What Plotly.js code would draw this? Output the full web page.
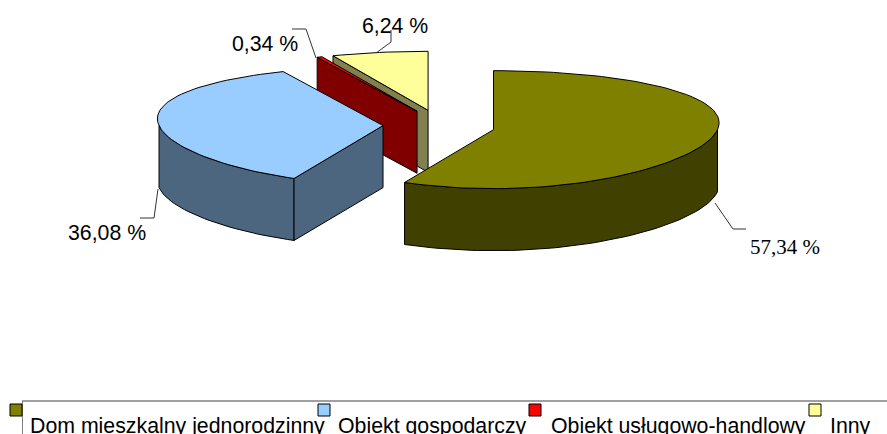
<!DOCTYPE html>
<html>
<head>
<meta charset="utf-8">
<script src="https://cdn.plot.ly/plotly-3.0.1.min.js"></script>
<style>html,body{margin:0;padding:0;background:#fff;overflow:hidden}</style>
</head>
<body>
<div id="chart" style="width:887px;height:434px"></div>
<script>
// Data
const categories = ["Dom mieszkalny jednorodzinny", "Obiekt gospodarczy", "Obiekt usługowo-handlowy", "Inny"];
const shares = [57.34, 36.08, 0.34, 6.24];
const valueLabels = ["57,34 %", "36,08 %", "0,34 %", "6,24 %"];

// Styles
const topColors = ["#808000", "#99CCFF", "#FF0000", "#FFFF99"];
const wallColors = ["#404000", "#4D6680", "#800000", "#808050"];

// Projection of the pie on the page
const cx = 439, cy = 126, rx = 224, ry = 59, depth = 62, skew = 0.12, explodeX = 56, explodeY = 16;
const rad = d => d * Math.PI / 180;
const px = t => rx * Math.sin(rad(t)) * (1 + skew * Math.cos(rad(t)));
const py = t => -ry * Math.cos(rad(t));

const traces = [];
function poly(pts, fill) {
  traces.push({
    type: "scatter", mode: "lines", x: pts.map(p => p[0]), y: pts.map(p => p[1]),
    fill: "toself", fillcolor: fill, line: {color: "#000", width: 1},
    hoverinfo: "skip", showlegend: false
  });
}
function arc(a, b, ox, oy) {
  const out = [], n = Math.max(2, Math.ceil(Math.abs(b - a) / 2));
  for (let i = 0; i <= n; i++) {
    const t = a + (b - a) * i / n;
    out.push([ox + px(t), oy + py(t)]);
  }
  return out;
}

// Angles of every slice, clockwise from 12 o'clock
const total = shares.reduce((s, v) => s + v, 0);
let acc = 0;
const slices = shares.map((v, i) => {
  const s = acc / total * 360; acc += v;
  const e = acc / total * 360;
  const m = rad((s + e) / 2);
  return {i, s, e, ox: cx + explodeX * Math.sin(m), oy: cy - explodeY * Math.cos(m)};
});

// Back to front
[3, 2, 1, 0].forEach(k => {
  const {i, s, e, ox, oy} = slices[k];
  // outer wall (front half only)
  const a = Math.max(s, 90), b = Math.min(e, 270);
  if (b > a) {
    const up = arc(a, b, ox, oy), down = arc(b, a, ox, oy + depth);
    poly(up.concat(down, [up[0]]), wallColors[i]);
  }
  // radial faces facing the viewer
  const face = t => {
    const p = [ox + px(t), oy + py(t)];
    poly([[ox, oy], p, [p[0], p[1] + depth], [ox, oy + depth], [ox, oy]], wallColors[i]);
  };
  if (s > 180 && s < 360) face(s);
  if (e > 0 && e < 180) face(e);
  // top
  const rim = arc(s, e, ox, oy);
  poly([[ox, oy]].concat(rim, [[ox, oy]]), topColors[i]);
});

// Leader lines
const leaders = [
  {x: [715, 733, 746], y: [203, 229, 229]},
  {x: [158, 154, 140], y: [189, 218, 218]},
  {x: [316, 306, 292], y: [58, 29, 29]},
  {x: [376, 391, 391], y: [53, 42, 30]}
];
leaders.forEach(l => traces.push({
  type: "scatter", mode: "lines", x: l.x, y: l.y,
  line: {color: "#333", width: 1}, hoverinfo: "skip", showlegend: false
}));

// Text
const labelPos = [[749, 247], [67, 233], [231, 44], [361, 26]];
const sans = "Liberation Sans, Arial, sans-serif", serif = "Liberation Serif, Times New Roman, serif";
const annotations = valueLabels.map((t, i) => ({
  x: labelPos[i][0], y: labelPos[i][1], xref: "x", yref: "y", text: t, showarrow: false,
  xanchor: "left", yanchor: "middle", borderpad: 0,
  font: {family: i === 0 ? serif : sans, size: i === 0 ? 21 : 21.3, color: "#000"}
}));
const legendX = [29, 337, 550, 829], swatchX = [10, 318, 529, 809];
categories.forEach((t, i) => annotations.push({
  x: legendX[i], y: 426, xref: "x", yref: "y", text: t, showarrow: false,
  xanchor: "left", yanchor: "middle", borderpad: 0,
  font: {family: sans, size: 21.3, color: "#000"}
}));

const shapes = [
  {type: "line", xref: "x", yref: "y", x0: 22, x1: 887, y0: 401, y1: 401, line: {color: "#808080", width: 1.5}},
  {type: "line", xref: "x", yref: "y", x0: 22.5, x1: 22.5, y0: 401, y1: 434, line: {color: "#808080", width: 1}}
];
swatchX.forEach((x, i) => shapes.push({
  type: "rect", xref: "x", yref: "y", x0: x, x1: x + 12, y0: 404, y1: 416,
  fillcolor: topColors[i], line: {color: "#000", width: 1}
}));

Plotly.newPlot("chart", traces, {
  width: 887, height: 434, margin: {l: 0, r: 0, t: 0, b: 0},
  paper_bgcolor: "#fff", plot_bgcolor: "#fff", showlegend: false,
  xaxis: {range: [0, 887], visible: false, fixedrange: true},
  yaxis: {range: [434, 0], visible: false, fixedrange: true},
  annotations, shapes
}, {displayModeBar: false, staticPlot: true});
</script>
</body>
</html>
